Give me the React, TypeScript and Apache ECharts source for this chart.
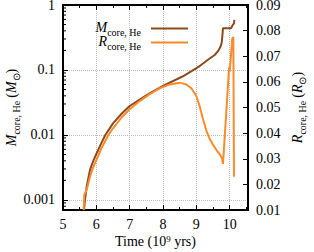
import React, { useEffect, useRef } from "react";
import * as echarts from "echarts";

const FONT = "'Liberation Serif', 'Times New Roman', serif";

// Time (10^9 yrs) and helium core mass (Msun)
const mTimes = [5.63, 5.66, 5.71, 5.81, 5.9, 6.0, 6.15, 6.27, 6.5, 6.75, 7.0, 7.3, 7.61, 8.0, 8.6, 9.1, 9.4, 9.55, 9.65, 9.72, 9.76, 9.78, 9.8, 10.04, 10.1, 10.13, 10.14];
const mCore = [0.0007, 0.001, 0.0016, 0.0029, 0.0039, 0.0051, 0.0075, 0.01, 0.0151, 0.021, 0.0279, 0.035, 0.044, 0.057, 0.08, 0.115, 0.15, 0.17, 0.195, 0.225, 0.26, 0.33, 0.44, 0.44, 0.5, 0.52, 0.59];

// Time (10^9 yrs) and helium core radius (Rsun)
const rTimes = [5.62, 5.64, 5.71, 5.81, 5.9, 6.0, 6.15, 6.36, 6.5, 6.75, 7.0, 7.3, 7.6, 7.9, 8.2, 8.5, 8.7, 8.85, 9.0, 9.1, 9.2, 9.3, 9.4, 9.5, 9.6, 9.7, 9.77, 9.8, 9.98, 9.99, 10.0, 10.08, 10.11, 10.13];
const rCore = [0.01, 0.016, 0.0178, 0.023, 0.0265, 0.0295, 0.034, 0.0393, 0.0419, 0.046, 0.0493, 0.0525, 0.0552, 0.0575, 0.059, 0.0597, 0.059, 0.0575, 0.0545, 0.0505, 0.0455, 0.041, 0.0378, 0.0355, 0.0335, 0.0318, 0.0302, 0.028, 0.065, 0.0658, 0.064, 0.077, 0.0775, 0.023];

// minor ticks of the logarithmic axis
const logMinorTicks = [0.0008, 0.0009, 0.002, 0.003, 0.004, 0.005, 0.006, 0.007, 0.008, 0.009, 0.02, 0.03, 0.04, 0.05, 0.06, 0.07, 0.08, 0.09, 0.2, 0.3, 0.4, 0.5, 0.6, 0.7, 0.8, 0.9];

const BROWN = "#8e4a1c";
const ORANGE = "#ff8a2a";

const rich = {
  i: { fontFamily: FONT, fontStyle: "italic", fontSize: 14, color: "#000", verticalAlign: "bottom", padding: [0, 0, 3, 0] },
  s: { fontFamily: FONT, fontSize: 10, color: "#000", verticalAlign: "bottom" },
  sl: { fontFamily: FONT, fontSize: 10, color: "#000", verticalAlign: "bottom", padding: [0, 5, 0, 0] },
  t: { fontFamily: FONT, fontSize: 14, color: "#000", verticalAlign: "bottom", padding: [0, 0, 3, 0] },
  sup: { fontFamily: FONT, fontSize: 9, color: "#000", verticalAlign: "top" },
  n: { fontFamily: FONT, fontSize: 14, color: "#000", verticalAlign: "top" },
};

const axisLine = { show: true, onZero: false, lineStyle: { color: "#000", width: 2 } };
const grid = { show: true, lineStyle: { color: "#bdbdbd", type: "dotted", width: 1 } };

export default function App() {
  const ref = useRef<HTMLDivElement>(null);
  useEffect(() => {
    if (!ref.current) return;
    const chart = echarts.init(ref.current, undefined, { renderer: "svg" });
    const mData = mTimes.map((t, i) => [t, mCore[i]]);
    const rData = rTimes.map((t, i) => [t, rCore[i]]);
    const legendBase = {
      orient: "vertical",
      align: "right",
      right: 126,
      padding: 0,
      icon: "rect",
      itemWidth: 37,
      itemHeight: 2,
      textStyle: { rich },
    };
    chart.setOption({
      animation: false,
      textStyle: { fontFamily: FONT },
      grid: { left: 63, right: 66, top: 5, bottom: 42, containLabel: false, outerBoundsMode: "none" },
      legend: [
        { ...legendBase, data: ["M"], top: 20, formatter: () => "{i|M}{sl|core, He}" },
        { ...legendBase, data: ["R"], top: 34, formatter: () => "{i|R}{sl|core, He}" },
      ],
      xAxis: [
        {
          type: "value",
          min: 5,
          max: 10.55,
          interval: 1,
          position: "bottom",
          axisLine,
          axisTick: { inside: true, length: 5, lineStyle: { color: "#000" } },
          minorTick: { show: true, splitNumber: 2, length: 3, lineStyle: { color: "#000" } },
          axisLabel: { color: "#000", fontSize: 14, fontFamily: FONT, margin: 7, showMaxLabel: false },
          splitLine: grid,
          name: "{n|Time (10}{sup|9}{n| yrs)}",
          nameLocation: "middle",
          nameGap: 24,
          nameMoveOverlap: false,
          nameTextStyle: { rich },
        },
        {
          type: "value",
          min: 5,
          max: 10.55,
          interval: 1,
          position: "top",
          axisLine,
          axisTick: { inside: true, length: 5, lineStyle: { color: "#000" } },
          minorTick: { show: true, splitNumber: 2, length: 3, lineStyle: { color: "#000" } },
          axisLabel: { show: false },
          splitLine: { show: false },
        },
      ],
      yAxis: [
        {
          type: "log",
          logBase: 10,
          min: 0.0007,
          max: 1,
          position: "left",
          axisLine,
          axisTick: { inside: true, length: 5, lineStyle: { color: "#000" } },
          axisLabel: { color: "#000", fontSize: 14, fontFamily: FONT, margin: 8, showMinLabel: false },
          splitLine: grid,
          name: "{i|M}{s|core, He} {t|(}{i|M}{s|⊙}{t|)}",
          nameLocation: "middle",
          nameGap: 42,
          nameMoveOverlap: false,
          nameTextStyle: { rich },
        },
        {
          type: "value",
          min: 0.01,
          max: 0.09,
          interval: 0.01,
          position: "right",
          axisLine,
          axisTick: { inside: true, length: 5, lineStyle: { color: "#000" } },
          axisLabel: { color: "#000", fontSize: 14, fontFamily: FONT, margin: 8, formatter: (v: number) => v.toFixed(2) },
          splitLine: { show: false },
          name: "{i|R}{s|core, He} {t|(}{i|R}{s|⊙}{t|)}",
          nameLocation: "middle",
          nameGap: 42,
          nameMoveOverlap: false,
          nameTextStyle: { rich },
        },
      ],
      series: [
        {
          name: "M",
          type: "line",
          xAxisIndex: 0,
          yAxisIndex: 0,
          data: mData,
          showSymbol: false,
          symbol: "none",
          lineStyle: { color: BROWN, width: 2 },
          itemStyle: { color: BROWN },
          z: 3,
        },
        {
          name: "R",
          type: "line",
          xAxisIndex: 0,
          yAxisIndex: 1,
          data: rData,
          showSymbol: false,
          symbol: "none",
          lineStyle: { color: ORANGE, width: 2 },
          itemStyle: { color: ORANGE },
          z: 4,
        },
        {
          name: "minor",
          type: "custom",
          xAxisIndex: 0,
          yAxisIndex: 0,
          silent: true,
          data: logMinorTicks.map((v) => [5, v]),
          encode: { x: 0, y: 1 },
          renderItem: (params: any, api: any) => {
            const p = api.coord([api.value(0), api.value(1)]);
            const x0 = params.coordSys.x;
            return {
              type: "line",
              shape: { x1: x0, y1: p[1], x2: x0 + 3, y2: p[1] },
              style: { stroke: "#000", lineWidth: 1 },
            };
          },
          z: 5,
        },
      ],
    });
    return () => chart.dispose();
  }, []);
  return <div ref={ref} style={{ position: "absolute", left: 0, top: 0, width: 314, height: 252 }} />;
}
